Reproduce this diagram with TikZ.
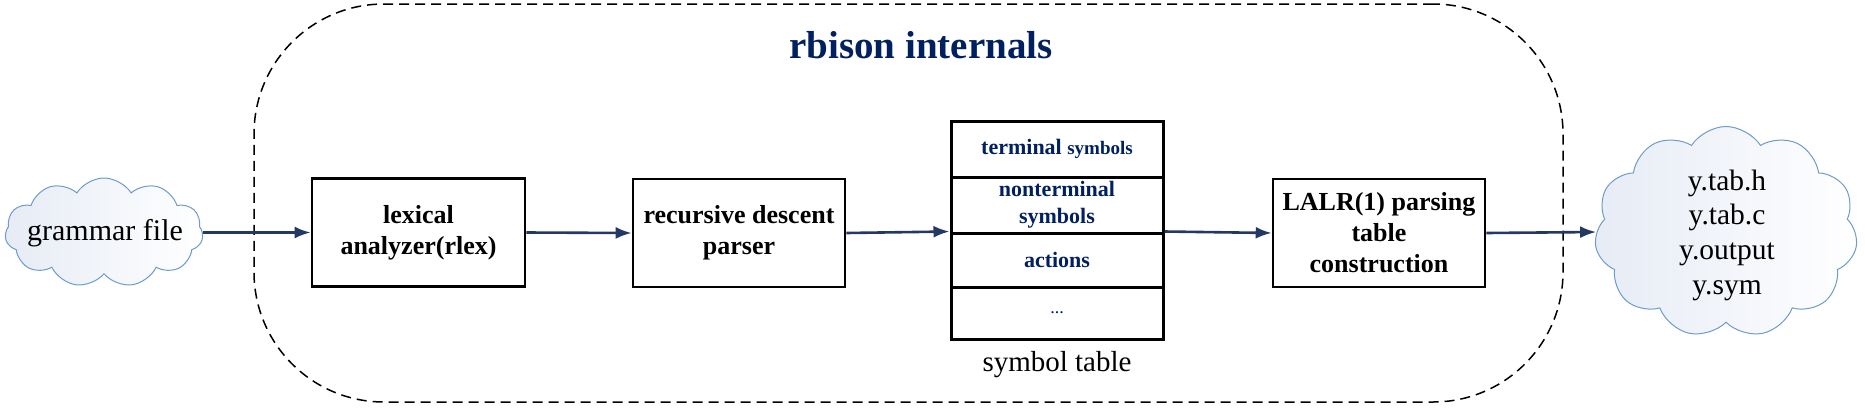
\documentclass[tikz,border=0pt]{standalone}
\usepackage{fontspec}
\setmainfont{Liberation Serif}
\usetikzlibrary{shapes.symbols,arrows.meta}
\definecolor{navy}{RGB}{0,32,96}
\definecolor{arrowc}{RGB}{36,56,100}
\definecolor{cloudline}{RGB}{110,155,205}
\definecolor{cloudfill}{RGB}{230,235,245}
\begin{document}
\begin{tikzpicture}[x=1pt,y=-1pt,
  box/.style={draw=black, line width=2.6pt, fill=white, inner sep=0pt, align=center,
    font=\fontsize{26}{31}\selectfont\bfseries},
  cloudshape/.style={cloud, cloud puffs=11, cloud puff arc=115, cloud ignores aspect,
    draw=cloudline, line width=1pt, left color=cloudfill, right color=white, inner sep=0pt},
  flow/.style={draw=arrowc, line width=2.6pt, -{Latex[length=16pt,width=12pt]}},
  cell/.style={draw=black, line width=3pt, fill=white, minimum width=212pt, inner sep=0pt,
    align=center, text=navy, font=\fontsize{22}{27}\selectfont\bfseries},
  plain/.style={inner sep=0pt, align=center, font=\fontsize{30}{34.7}\selectfont},
]
\useasboundingbox (0,0) rectangle (1865,413);
% frame
\node (frame) [draw=black, line width=1.5pt, dash pattern=on 10pt off 6pt, rounded corners=130pt,
  minimum width=1309pt, minimum height=398pt, inner sep=0pt] at (908.5,203) {};
\node (title) [inner sep=0pt, text=navy, font=\fontsize{39}{44}\selectfont\bfseries] at (921,45) {rbison internals};
% clouds
\node (gcloud) [cloudshape, minimum width=198pt, minimum height=109pt] at (104,232.5) {};
\node (gtext) [plain] at (105,233) {grammar file};
\node (ocloud) [cloudshape, minimum width=263pt, minimum height=211pt] at (1726,232) {};
\node (otext) [plain, font=\fontsize{29.5}{34.7}\selectfont] at (1727,235) {y.tab.h\\y.tab.c\\y.output\\y.sym};
% boxes
\node (lex) [box, minimum width=213pt, minimum height=108pt] at (418.5,232.5) {lexical\\analyzer(rlex)};
\node (rec) [box, minimum width=212pt, minimum height=108pt] at (739,233) {recursive descent\\parser};
\node (lalr) [box, minimum width=212pt, minimum height=108pt] at (1379,233) {LALR(1) parsing\\table\\construction};
% symbol table
\node (r1) [cell, minimum height=56pt] at (1057,149) {terminal {\fontsize{19}{22}\selectfont symbols}};
\node (r2) [cell, minimum height=56pt] at (1057,205) {nonterminal\\symbols};
\node (r3) [cell, minimum height=54pt] at (1057,260) {actions};
\node (r4) [cell, minimum height=52pt, font=\fontsize{18}{22}\selectfont] at (1057,313) {...};
\node (stlabel) [plain, font=\fontsize{29}{34}\selectfont] at (1057,365) {symbol table};
% connectors
\draw[flow] (gcloud.east) -- (lex.west);
\draw[flow] (lex.east) -- (rec.west);
\draw[flow] (rec.east) -- (r3.north west);
\draw[flow] (r3.north east) -- (lalr.west);
\draw[flow] (lalr.east) -- (ocloud.west);
\end{tikzpicture}
\end{document}
